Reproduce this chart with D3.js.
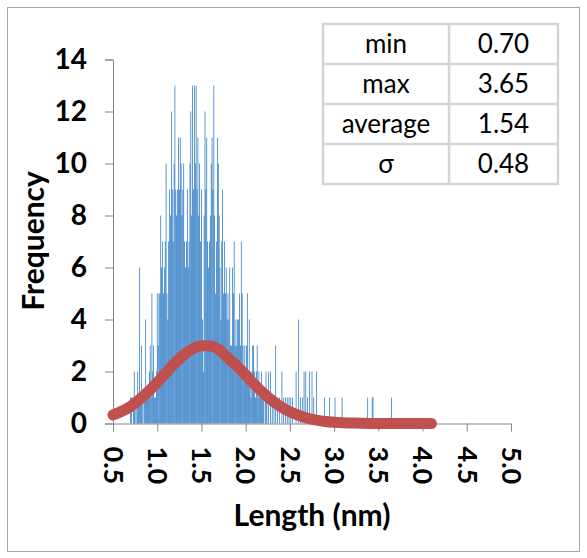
<!DOCTYPE html>
<html>
<head>
<meta charset="utf-8">
<script src="https://cdn.jsdelivr.net/npm/d3@7"></script>
<style>
  html, body { margin: 0; padding: 0; background: #fff; }
  svg { display: block; }
  text { font-family: Lato, "Open Sans", sans-serif; fill: #000; }
</style>
</head>
<body>
<svg id="chart" width="587" height="558"></svg>
<script>
// Histogram bins: first bin length and bin width (nm)
const binStart = 0.70;
const binWidth = 0.01;

// Counts per 0.01 nm bin, from 0.70 nm to 3.65 nm (rows of ten bins)
const counts = [
  1,1,0,1,2,1,0,1,2,1,      // 0.70
  6,1,3,1,0,1,1,4,1,1,      // 0.80
  1,2,3,1,5,2,3,1,1,2,      // 0.90
  5,3,5,5,8,6,7,5,6,7,      // 1.00
  10,5,4,7,9,8,12,9,7,10,   // 1.10
  13,9,8,9,11,9,11,10,8,9,  // 1.20
  10,7,6,7,9,6,7,10,12,8,   // 1.30
  13,9,13,10,13,9,11,8,10,7,// 1.40
  9,4,2,8,12,9,11,7,6,7,    // 1.50
  8,10,11,9,13,8,5,7,11,10, // 1.60
  8,6,4,7,9,5,7,5,6,4,      // 1.70
  5,4,6,3,3,6,5,7,3,4,      // 1.80
  3,4,4,5,3,7,5,3,2,3,      // 1.90
  2,3,5,2,4,2,1,2,3,3,      // 2.00
  2,1,2,3,1,2,1,1,2,1,      // 2.10
  1,0,1,2,1,0,2,0,2,0,      // 2.20
  1,0,1,0,3,0,1,0,1,0,      // 2.30
  0,2,0,1,0,1,0,1,0,1,      // 2.40
  0,1,0,1,0,0,0,2,0,0,      // 2.50
  4,0,1,0,1,0,2,0,2,0,      // 2.60
  1,0,2,0,0,2,0,1,0,0,      // 2.70
  2,0,0,0,0,0,0,0,0,1,      // 2.80
  0,0,0,0,0,1,0,0,0,0,      // 2.90
  0,1,0,0,0,0,0,0,0,1,      // 3.00
  0,0,0,0,0,0,0,0,0,0,      // 3.10
  0,0,0,0,0,0,0,0,0,0,      // 3.20
  0,0,0,0,0,0,0,0,1,0,      // 3.30
  0,0,0,1,1,0,0,0,0,0,      // 3.40
  0,0,0,0,0,0,0,0,0,0,      // 3.50
  0,0,0,0,0,1               // 3.60
];

// Fitted distribution curve (length nm, frequency)
const fitLength = [0.5,0.6,0.7,0.8,0.9,1.0,1.1,1.2,1.3,1.4,1.5,1.6,1.7,1.8,1.9,2.0,2.1,2.2,2.3,2.4,
                   2.5,2.6,2.7,2.8,2.9,3.0,3.1,3.2,3.3,3.4,3.5,3.6,3.7,3.8,3.9,4.0,4.1];
const fitFreq   = [0.33,0.47,0.66,0.92,1.23,1.58,1.95,2.32,2.64,2.87,2.99,2.98,2.84,2.52,2.22,1.86,1.50,1.17,0.88,0.64,
                   0.45,0.31,0.20,0.13,0.08,0.05,0.03,0.02,0.01,0,0,0,0,0,0,0,0];

// Summary statistics table
const statNames  = ["min", "max", "average", "σ"];
const statValues = ["0.70", "3.65", "1.54", "0.48"];

// Axis ticks
const xTicks = [0.5,1.0,1.5,2.0,2.5,3.0,3.5,4.0,4.5,5.0];
const yTicks = [0,2,4,6,8,10,12,14];

const svg = d3.select("#chart");

// outer frame
svg.append("rect")
  .attr("x", 7.5).attr("y", 7.5).attr("width", 572).attr("height", 544)
  .attr("fill", "#fff").attr("stroke", "#a6a6a6").attr("stroke-width", 1);

const x = d3.scaleLinear().domain([0.5, 5.0]).range([113, 511]);
const y = d3.scaleLinear().domain([0, 14]).range([423.5, 59.5]);

// histogram bars
const bins = counts.map((c, i) => ({ len: +(binStart + i * binWidth).toFixed(2), c }))
                   .filter(d => d.c > 0);
const barW = (x(binWidth) - x(0)) * 0.75;
svg.append("g").selectAll("rect").data(bins).join("rect")
  .attr("x", d => x(d.len) - barW / 2)
  .attr("width", barW)
  .attr("y", d => y(d.c))
  .attr("height", d => y(0) - y(d.c))
  .attr("fill", "#0d66bc");

// axes
const gy = svg.append("g").attr("transform", "translate(113,0)")
  .call(d3.axisLeft(y).tickValues(yTicks).tickFormat(d3.format("d")).tickSize(8).tickPadding(18));
const gx = svg.append("g").attr("transform", "translate(0,423.5)")
  .call(d3.axisBottom(x).tickValues(xTicks).tickFormat(d3.format(".1f")).tickSize(8).tickPadding(0));
[gx, gy].forEach(g => {
  g.select(".domain").attr("stroke", "#868686");
  g.selectAll(".tick line").attr("stroke", "#868686");
});
gy.selectAll(".tick text")
  .attr("font-family", "Lato").attr("font-weight", 700).attr("font-size", 28).attr("fill", "#000");
gx.selectAll(".tick text")
  .attr("font-family", "Lato").attr("font-weight", 700).attr("font-size", 27).attr("fill", "#000")
  .attr("text-anchor", "start").attr("dy", "0.36em")
  .attr("transform", "translate(0,23) rotate(90)")
  .attr("y", 0).attr("x", 0);

// fitted curve
const line = d3.line().x((d, i) => x(fitLength[i])).y(d => y(d)).curve(d3.curveMonotoneX);
svg.append("path")
  .attr("d", line(fitFreq))
  .attr("fill", "none").attr("stroke", "#c0504d").attr("stroke-width", 11)
  .attr("stroke-linecap", "round").attr("stroke-linejoin", "round");

// axis titles
svg.append("text").attr("x", 312).attr("y", 526)
  .attr("text-anchor", "middle").attr("font-weight", 700).attr("font-size", 30)
  .text("Length (nm)");
svg.append("text").attr("transform", "translate(44,241) rotate(-90)")
  .attr("text-anchor", "middle").attr("font-weight", 700).attr("font-size", 30)
  .text("Frequency");

// statistics table
const tableX = [323, 449, 558];
const rowY = d3.range(statNames.length + 1).map(i => 24 + i * 40);
const tbl = svg.append("g");
tbl.append("rect").attr("x", tableX[0]).attr("y", rowY[0])
  .attr("width", tableX[2] - tableX[0]).attr("height", rowY[rowY.length - 1] - rowY[0])
  .attr("fill", "#fff").attr("stroke", "#d4d4d4").attr("stroke-width", 2.5);
rowY.slice(1, -1).forEach(ry => tbl.append("line")
  .attr("x1", tableX[0]).attr("x2", tableX[2]).attr("y1", ry).attr("y2", ry)
  .attr("stroke", "#d4d4d4").attr("stroke-width", 2.5));
tbl.append("line").attr("x1", tableX[1]).attr("x2", tableX[1])
  .attr("y1", rowY[0]).attr("y2", rowY[rowY.length - 1])
  .attr("stroke", "#d4d4d4").attr("stroke-width", 2.5);
statNames.forEach((n, i) => {
  const cy = (rowY[i] + rowY[i + 1]) / 2;
  tbl.append("text").attr("x", (tableX[0] + tableX[1]) / 2).attr("y", cy)
    .attr("dy", "0.36em").attr("text-anchor", "middle").attr("font-size", 26).text(n);
  tbl.append("text").attr("x", (tableX[1] + tableX[2]) / 2).attr("y", cy)
    .attr("dy", "0.36em").attr("text-anchor", "middle").attr("font-size", 26).text(statValues[i]);
});
</script>
</body>
</html>
